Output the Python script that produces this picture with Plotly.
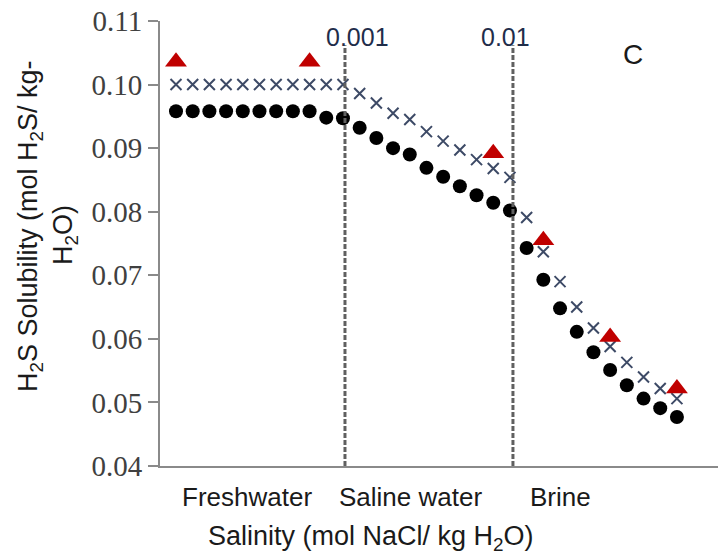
import plotly.graph_objects as go

idx = list(range(31))
circles = [0.0958, 0.0958, 0.0958, 0.0958, 0.0958, 0.0958, 0.0958, 0.0958, 0.0958, 0.0948,
           0.0947, 0.0932, 0.0916, 0.0900, 0.0890, 0.0869, 0.0855, 0.0840, 0.0826, 0.0814,
           0.0802, 0.0743, 0.0693, 0.0648, 0.0611, 0.0579, 0.0551, 0.0527, 0.0506, 0.0491,
           0.0477]
crosses = [0.1000, 0.1000, 0.1000, 0.1000, 0.1000, 0.1000, 0.1000, 0.1000, 0.1000, 0.1000,
           0.1000, 0.0986, 0.0971, 0.0955, 0.0945, 0.0926, 0.0911, 0.0897, 0.0882, 0.0868,
           0.0854, 0.0791, 0.0737, 0.0690, 0.0650, 0.0617, 0.0588, 0.0563, 0.0540, 0.0522,
           0.0506]
tri_idx = [0, 8, 19, 22, 26, 30]
triangles = [0.1036, 0.1036, 0.0892, 0.0755, 0.0603, 0.0522]

boundary_pos = [10.12, 20.18]
boundary_labels = ["0.001", "0.01"]
region_labels = ["Freshwater", "Saline water", "Brine"]
region_px = [247, 410, 560]
yticks = [0.04, 0.05, 0.06, 0.07, 0.08, 0.09, 0.10, 0.11]

L, R, T, B, W, H = 160, 0, 21, 89, 718, 555
PW, PH = W - L - R, H - T - B


def px_x(p):
    return (p - L) / PW


def px_y(p):
    return (H - B - p) / PH


fig = go.Figure()
fig.add_trace(go.Scatter(x=idx, y=crosses, mode="markers",
                         marker=dict(symbol="x-thin", size=11, color="#3d4a66",
                                     line=dict(width=2, color="#3d4a66")),
                         showlegend=False))
fig.add_trace(go.Scatter(x=idx, y=circles, mode="markers",
                         marker=dict(symbol="circle", size=14, color="black"),
                         showlegend=False))
fig.add_trace(go.Scatter(x=tri_idx, y=triangles, mode="markers",
                         marker=dict(symbol="triangle-up", size=19, color="#c00000"),
                         showlegend=False))

for xp, lab, sh in zip(boundary_pos, boundary_labels, [13, -7]):
    fig.add_shape(type="line", xref="x", yref="y", x0=xp, x1=xp, y0=0.04, y1=0.1062,
                  line=dict(color="#606060", width=3, dash="5px,2px"))
    fig.add_annotation(x=xp, y=0.1075, xref="x", yref="y", text=lab, showarrow=False,
                       xanchor="center", yanchor="middle", xshift=sh,
                       font=dict(family="Liberation Sans, Arial", size=25, color="#1f2d4a"))

for p, lab in zip(region_px, region_labels):
    fig.add_annotation(x=px_x(p), y=px_y(497), xref="paper", yref="paper", text=lab,
                       showarrow=False, xanchor="center", yanchor="middle",
                       font=dict(family="Liberation Sans, Arial", size=26, color="#1a1a1a"))

fig.add_annotation(x=px_x(633), y=px_y(54), xref="paper", yref="paper", text="C",
                   showarrow=False, xanchor="center", yanchor="middle",
                   font=dict(family="Liberation Sans, Arial", size=28, color="#1a1a1a"))

fig.add_annotation(xref="paper", yref="paper", x=px_x(371), y=px_y(538),
                   text="Salinity (mol NaCl/ kg H<sub>2</sub>O)", showarrow=False,
                   xanchor="center", yanchor="middle",
                   font=dict(family="Liberation Sans, Arial", size=27, color="#1a1a1a"))
fig.add_annotation(xref="paper", yref="paper", x=px_x(30), y=px_y(226),
                   text="H<sub>2</sub>S Solubility (mol H<sub>2</sub>S/ kg-", showarrow=False,
                   textangle=-90, xanchor="center", yanchor="middle",
                   font=dict(family="Liberation Sans, Arial", size=27, color="#1a1a1a"))
fig.add_annotation(xref="paper", yref="paper", x=px_x(65), y=px_y(235),
                   text="H<sub>2</sub>O)", showarrow=False,
                   textangle=-90, xanchor="center", yanchor="middle",
                   font=dict(family="Liberation Sans, Arial", size=27, color="#1a1a1a"))

fig.update_xaxes(range=[-0.958, 32.46], showgrid=False, zeroline=False, showticklabels=False,
                 showline=True, linecolor="#8a8a8a", linewidth=2, ticks="")
fig.update_yaxes(range=[0.04, 0.11], tickvals=yticks, ticktext=[f"{v:.2f}" for v in yticks],
                 showgrid=False, zeroline=False, showline=True, linecolor="#8a8a8a", linewidth=2,
                 ticks="outside", ticklen=10, tickwidth=2, tickcolor="#8a8a8a",
                 tickfont=dict(family="Liberation Serif, Times New Roman", size=29, color="#404040"))

fig.update_layout(width=W, height=H, margin=dict(l=L, r=R, t=T, b=B),
                  plot_bgcolor="white", paper_bgcolor="white")
fig.write_html("out.html")
